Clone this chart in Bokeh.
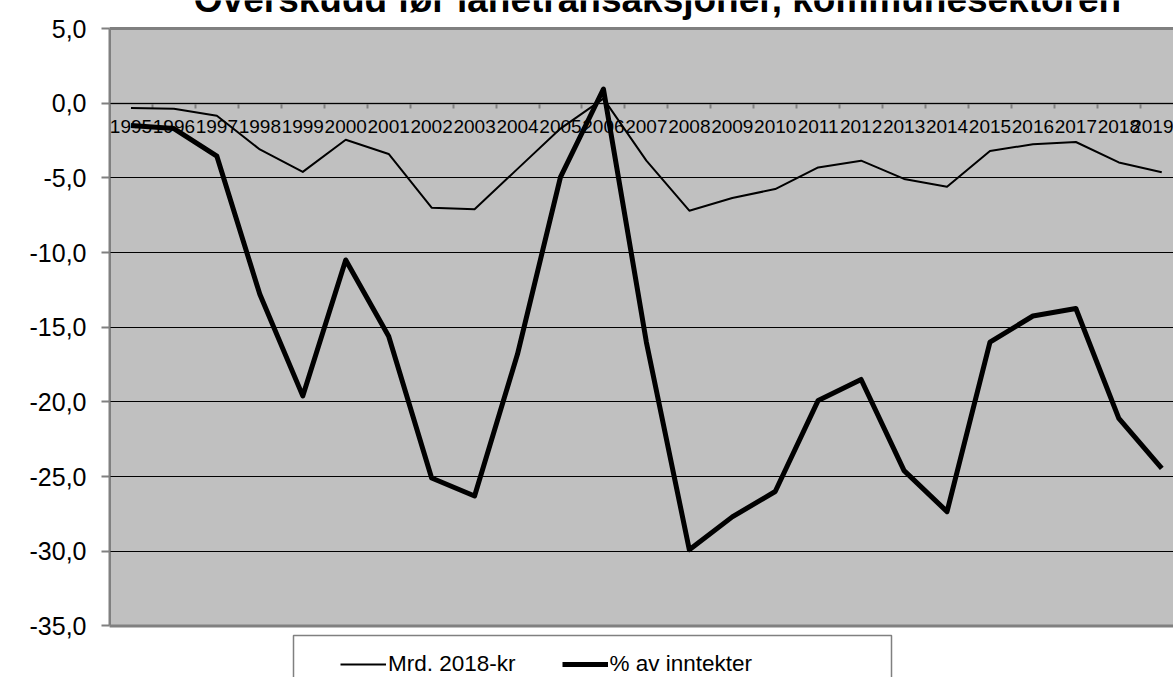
from bokeh.plotting import figure
from bokeh.models import (Range1d, FixedTicker, Legend, LegendItem, Label,
                          BoxAnnotation)
from bokeh.embed import file_html
from bokeh.resources import INLINE

years = list(range(1995, 2020))
mrd_kr = [-0.32, -0.38, -0.84, -3.1, -4.6, -2.45, -3.4, -7.0, -7.1, -4.4,
          -1.7, 0.3, -3.85, -7.2, -6.35, -5.75, -4.3, -3.85, -5.07, -5.6,
          -3.2, -2.75, -2.6, -3.97, -4.62]
pct_inntekter = [-1.5, -1.7, -3.55, -12.8, -19.6, -10.5, -15.6, -25.1, -26.3, -16.8,
                 -4.95, 0.95, -16.0, -29.9, -27.7, -26.0, -19.9, -18.5, -24.6, -27.35,
                 -16.0, -14.25, -13.75, -21.1, -24.45]
y_ticks = [5, 0, -5, -10, -15, -20, -25, -30, -35]
title_text = "Overskudd før lånetransaksjoner, kommunesektoren"
legend_labels = ["Mrd. 2018-kr", "% av inntekter"]

FONT = "Liberation Sans"
W, H = 1173, 677
FRAME_LEFT = 109
AREA_TOP = 28          # pixel row of the value 5,0
PX_PER_UNIT = 14.935
CAT_W = 42.95
frame_w = W - FRAME_LEFT
y_top = max(y_ticks) + AREA_TOP / PX_PER_UNIT
y_bottom = y_top - H / PX_PER_UNIT
x_start = years[0] - 0.5
x_end = x_start + frame_w / CAT_W

p = figure(width=W, height=H, output_backend="svg", toolbar_location=None,
           x_range=Range1d(x_start, x_end),
           y_range=Range1d(y_bottom, y_top),
           min_border_left=FRAME_LEFT, min_border_right=0,
           min_border_top=0, min_border_bottom=0)
p.background_fill_color = "white"
p.border_fill_color = "white"
p.outline_line_color = None

# grey plot area between -35 and 5 (continues past the right edge)
p.add_layout(BoxAnnotation(bottom=min(y_ticks), top=max(y_ticks),
                           left=x_start, right=x_end + 1,
                           fill_color="#C0C0C0", fill_alpha=1.0,
                           line_color="#808080", line_alpha=1.0, line_width=3,
                           level="image"))

# y axis
p.yaxis.bounds = (min(y_ticks), max(y_ticks))
p.yaxis.ticker = FixedTicker(ticks=y_ticks)
p.yaxis.major_label_overrides = {t: f"{t:.1f}".replace(".", ",") for t in y_ticks}
p.yaxis.major_label_text_font = FONT
p.yaxis.major_label_text_font_size = "25px"
p.yaxis.major_label_text_color = "black"
p.yaxis.axis_line_color = "#808080"
p.yaxis.axis_line_width = 2
p.yaxis.major_tick_line_color = "#808080"
p.yaxis.major_tick_line_width = 2
p.yaxis.major_tick_in = 0
p.yaxis.major_tick_out = 8
p.yaxis.minor_tick_line_color = None
p.yaxis.major_label_standoff = 15

p.ygrid.ticker = FixedTicker(ticks=y_ticks[1:-1])
p.ygrid.grid_line_color = "black"
p.ygrid.grid_line_width = 1
p.xgrid.grid_line_color = None

# x axis crossing at 0
p.xaxis.fixed_location = 0
p.xaxis.ticker = FixedTicker(ticks=years,
                             minor_ticks=[y - 0.5 for y in years] + [years[-1] + 0.5])
p.xaxis.major_label_overrides = {y: str(y) for y in years}
p.xaxis.major_label_text_font = FONT
p.xaxis.major_label_text_font_size = "19px"
p.xaxis.major_label_text_color = "black"
p.xaxis.major_tick_line_color = None
p.xaxis.major_tick_in = 0
p.xaxis.major_tick_out = 0
p.xaxis.major_label_standoff = 12
p.xaxis.minor_tick_line_color = "#808080"
p.xaxis.minor_tick_line_width = 2
p.xaxis.minor_tick_in = 0
p.xaxis.minor_tick_out = 5
p.xaxis.axis_line_color = "#808080"
p.xaxis.axis_line_width = 2
p.xaxis.level = "underlay"

r_thin = p.line(years, mrd_kr, line_color="black", line_width=2, line_join="round")
r_thick = p.line(years, pct_inntekter, line_color="black", line_width=5, line_join="round")

# title (partly cut off at top, as in the reference)
p.add_layout(Label(x=548, y=H + 1, x_units="screen", y_units="screen",
                   text=title_text, text_align="center", text_baseline="alphabetic",
                   text_font=FONT, text_font_size="37px", text_font_style="bold",
                   text_color="black"))

# legend box (extends past the bottom edge)
p.add_layout(BoxAnnotation(left=293, right=891, top=635, bottom=H + 40,
                           left_units="canvas", right_units="canvas",
                           top_units="canvas", bottom_units="canvas",
                           fill_color="white", fill_alpha=1.0,
                           line_color="#808080", line_alpha=1.0, line_width=1.5,
                           level="annotation"))

legend = Legend(items=[LegendItem(label=legend_labels[0], renderers=[r_thin]),
                       LegendItem(label=legend_labels[1], renderers=[r_thick])],
                orientation="horizontal", location=(231, 0),
                padding=0, margin=0, spacing=46, label_standoff=2,
                glyph_width=46, glyph_height=20,
                label_text_font=FONT, label_text_font_size="22.5px",
                label_text_color="black",
                border_line_color=None, background_fill_alpha=0)
p.add_layout(legend)

open("out.html", "w").write(file_html(p, INLINE))
